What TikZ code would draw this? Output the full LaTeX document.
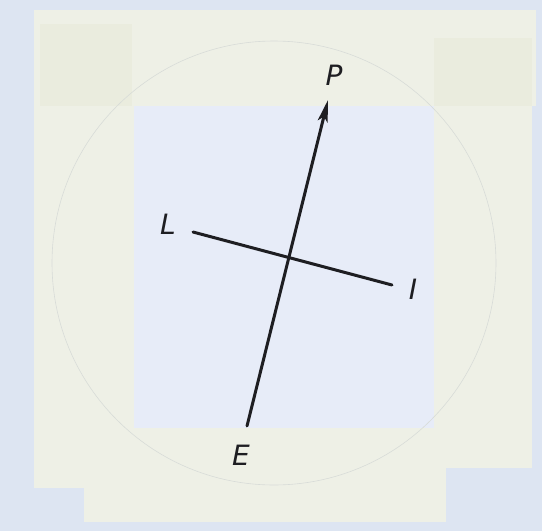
\documentclass[tikz,border=0pt]{standalone}
\usepackage{fontspec}
\setmainfont{DejaVu Sans}
\usetikzlibrary{arrows.meta}
\definecolor{bgblue}{HTML}{DDE5F2}
\definecolor{tape}{HTML}{EEF0E6}
\definecolor{tapeedge}{HTML}{EAECDE}
\definecolor{paper}{HTML}{E7ECF8}
\definecolor{ink}{HTML}{1E1E22}
\definecolor{circ}{HTML}{D8DCD8}
\tikzset{
  lbl/.style={font=\fontsize{28}{30}\selectfont\itshape, text=ink, inner sep=0pt},
  axisline/.style={draw=ink, line width=3pt, line cap=round},
}
\begin{document}
\begin{tikzpicture}[x=1pt,y=-1pt]
\useasboundingbox (0,0) rectangle (542,531);
\fill[bgblue] (0,0) rectangle (542,531);
% tape pieces
\fill[tape] (34,10) rectangle (536,106);
\fill[tape] (34,10) rectangle (134,488);
\fill[tape] (434,38) rectangle (532,468);
\fill[tape] (84,428) rectangle (446,522);
\fill[tapeedge] (434,38) rectangle (532,106);
\fill[tapeedge] (40,24) rectangle (132,106);
% paper under lines
\fill[paper] (134,106) rectangle (434,428);
% faint circle
\draw[circ, line width=0.6pt] (274,263) circle (222);
% coordinates
\coordinate (eend) at (247,426);
\coordinate (ptip) at (328,100);
\coordinate (lend) at (193,232);
\coordinate (iend) at (392,285);
% connectors
\draw[axisline, -{Stealth[length=22pt,width=10pt,inset=5pt]}] (eend) -- (ptip);
\draw[axisline] (lend) -- (iend);
% labels
\node[lbl] (P) at (334,75) {P};
\node[lbl] (L) at (168,224) {L};
\node[lbl] (I) at (413,289) {I};
\node[lbl] (E) at (241,455) {E};
\end{tikzpicture}
\end{document}
